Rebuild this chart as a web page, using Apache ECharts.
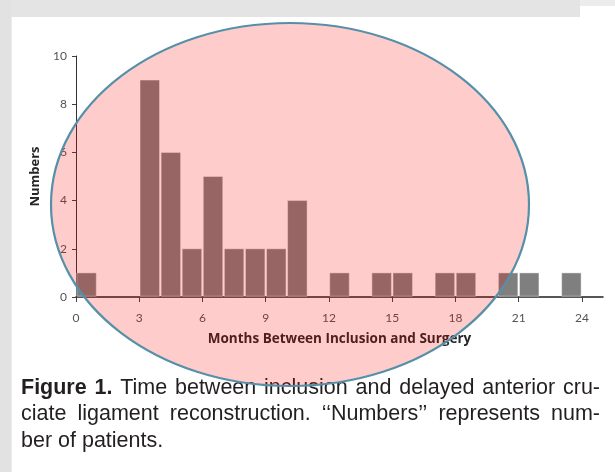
<!DOCTYPE html>
<html>
<head>
<meta charset="utf-8">
<script src="https://cdn.jsdelivr.net/npm/echarts@6/dist/echarts.min.js"></script>
<style>
  html, body { margin: 0; padding: 0; background: #ececec; }
  #main { width: 615px; height: 472px; }
</style>
</head>
<body>
<div id="main"></div>
<script>
// months between inclusion and surgery (bin start) and number of patients per bin
var monthBins = [0, 1, 2, 3, 4, 5, 6, 7, 8, 9, 10, 11, 12, 13, 14, 15, 16, 17, 18, 19, 20, 21, 22, 23];
var patientCounts = [1, 0, 0, 9, 6, 2, 5, 2, 2, 2, 4, 0, 1, 0, 1, 1, 0, 1, 1, 0, 1, 1, 0, 1];
var xTickValues = [0, 3, 6, 9, 12, 15, 18, 21, 24];
var yTickValues = [0, 2, 4, 6, 8, 10];

var captionLines = [
    { justify: true, words: [['Figure', true], ['1.', true], ['Time', false], ['between', false], ['inclusion', false], ['and', false], ['delayed', false], ['anterior', false], ['cru-', false]] },
    { justify: true, words: [['ciate', false], ['ligament', false], ['reconstruction.', false], ['\u2018\u2018Numbers\u2019\u2019', false], ['represents', false], ['num-', false]] },
    { justify: false, words: [['ber', false], ['of', false], ['patients.', false]] }
];

var chartDom = document.getElementById('main');
var myChart = echarts.init(chartDom);

// caption laid out as justified lines, one text element per word
var capFont = '"Liberation Sans", Arial, sans-serif';
var capSize = 21.5;
var capLeft = 21, capRight = 600;
var capTops = [388, 414.5, 441];
var measureCtx = document.createElement('canvas').getContext('2d');
var captionEls = [];
captionLines.forEach(function (line, li) {
    var widths = line.words.map(function (w) {
        measureCtx.font = (w[1] ? 'bold ' : '') + capSize + 'px ' + capFont;
        return measureCtx.measureText(w[0]).width;
    });
    var total = widths.reduce(function (a, b) { return a + b; }, 0);
    measureCtx.font = capSize + 'px ' + capFont;
    var gap = line.justify ? (capRight - capLeft - total) / (line.words.length - 1) : measureCtx.measureText(' ').width;
    var x = capLeft;
    line.words.forEach(function (w, i) {
        captionEls.push({
            type: 'text', x: x, y: capTops[li], z: 50,
            style: {
                text: w[0], fill: '#231f20', font: (w[1] ? 'bold ' : '') + capSize + 'px ' + capFont,
                textVerticalAlign: 'middle'
            }
        });
        x += widths[i] + gap;
    });
});

var option = {
    backgroundColor: '#ececec',
    animation: false,
    graphic: [
        { type: 'rect', z: -10, shape: { x: 0, y: 0, width: 580, height: 17 }, style: { fill: '#e4e4e4' } },
        { type: 'rect', z: -10, shape: { x: 0, y: 0, width: 11, height: 472 }, style: { fill: '#e2e2e2' } },
        { type: 'rect', z: -9, shape: { x: 12, y: 17, width: 603, height: 455 }, style: { fill: '#ffffff' } },
        { type: 'rect', z: -9, shape: { x: 580, y: 6, width: 35, height: 12 }, style: { fill: '#ffffff' } }
    ].concat(captionEls).concat([
        {
            type: 'ellipse', z: 100,
            shape: { cx: 290, cy: 204.5, rx: 239, ry: 181.5 },
            style: { fill: 'rgba(255,0,0,0.2)', stroke: '#5690a8', lineWidth: 2.2 }
        }
    ]),
    grid: { left: 76, right: 12, top: 56, bottom: 175 },
    xAxis: {
        type: 'value',
        min: 0,
        max: 25,
        interval: 3,
        name: 'Months Between Inclusion and Surgery',
        nameLocation: 'middle',
        nameGap: 35,
        nameTextStyle: { fontFamily: 'Open Sans', fontWeight: 'bold', fontSize: 13.5, color: '#262626' },
        splitLine: { show: false },
        axisLine: { lineStyle: { color: '#1f1f1f', width: 1.5 } },
        axisTick: { customValues: xTickValues, length: 5, inside: false, lineStyle: { color: '#404040' } },
        axisLabel: { customValues: xTickValues, margin: 15, fontFamily: 'Lato', fontSize: 12, color: '#545454' }
    },
    yAxis: {
        type: 'value',
        min: 0,
        max: 10,
        interval: 2,
        name: 'Numbers',
        nameLocation: 'middle',
        nameGap: 34,
        nameRotate: 90,
        nameTextStyle: { fontFamily: 'Open Sans', fontWeight: 'bold', fontSize: 13, color: '#262626' },
        splitLine: { show: false },
        axisLine: { show: true, lineStyle: { color: '#333333', width: 1 } },
        axisTick: { show: true, length: 4, lineStyle: { color: '#404040' } },
        axisLabel: { customValues: yTickValues, margin: 9, fontFamily: 'Lato', fontSize: 12, color: '#545454' }
    },
    series: [{
        type: 'custom',
        data: monthBins.map(function (m, i) { return [m, patientCounts[i]]; }),
        renderItem: function (params, api) {
            var v = api.value(1);
            if (!v) return null;
            var p0 = api.coord([api.value(0), 0]);
            var p1 = api.coord([api.value(0) + 1, v]);
            return {
                type: 'rect',
                shape: { x: p0[0] + 0.8, y: p1[1], width: p1[0] - p0[0] - 1.6, height: p0[1] - p1[1] - 0.8 },
                style: { fill: '#7f7f7f', stroke: 'rgba(255,255,255,0.45)', lineWidth: 1 }
            };
        }
    }]
};

option && myChart.setOption(option);
</script>
</body>
</html>
